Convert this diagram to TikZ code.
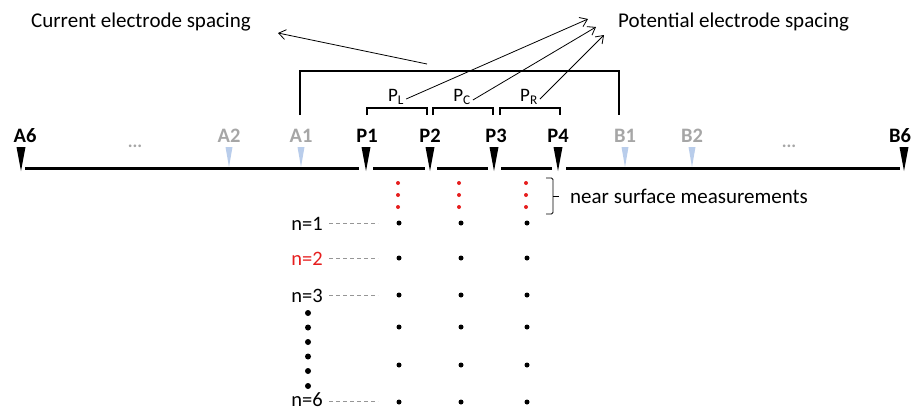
\documentclass[tikz,border=0pt]{standalone}
\usepackage{fontspec}
\setmainfont{Carlito}
\usetikzlibrary{arrows.meta}
\definecolor{elgray}{RGB}{166,166,166}
\definecolor{elblue}{RGB}{185,205,235}
\definecolor{mred}{RGB}{230,30,30}
\definecolor{dgray}{RGB}{150,150,150}
\begin{document}
\begin{tikzpicture}[x=1pt,y=-1pt,
  title/.style={font=\fontsize{21}{24}\selectfont, inner sep=0, anchor=west},
  elab/.style={font=\fontsize{20.5}{24}\selectfont\bfseries, inner sep=0},
  glab/.style={elab, text=elgray},
  plab/.style={font=\fontsize{19}{22}\selectfont, inner sep=0},
  nlab/.style={font=\fontsize{20.5}{24}\selectfont, inner sep=0, anchor=base east},
  ground/.style={line width=3pt},
  bracket/.style={line width=1.1pt},
  pointer/.style={line width=0.8pt, -{Straight Barb[length=7pt,width=10pt]}},
  mdot/.style={circle, fill=black, inner sep=0, minimum size=5pt},
  rdot/.style={circle, fill=mred, inner sep=0, minimum size=4pt},
  vdot/.style={circle, fill=black, inner sep=0, minimum size=6pt},
  dashlink/.style={dgray, line width=0.9pt, dash pattern=on 4pt off 3pt}
]
\useasboundingbox (0,0) rectangle (916,410);

% titles
\node[title] (cur) at (31,22) {Current electrode spacing};
\node[title] (pot) at (618,22) {Potential electrode spacing};

% ground line segments
\draw[ground] (25,168) -- (359,168);
\draw[ground] (373,168) -- (425,168);
\draw[ground] (437,168) -- (488,168);
\draw[ground] (501,168) -- (552,168);
\draw[ground] (566,168) -- (900,168);

% black electrode markers
\foreach \x/\n in {21/a6,366/p1,430/p2,494/p3,558/p4,904/b6}{
  \fill (\x-4.5,147) -- (\x+4.5,147) -- (\x,171) -- cycle;
  \coordinate (\n) at (\x,147);
}
% blue (faded) markers
\foreach \x/\n in {229/a2,301/a1,625/b1,692/b2}{
  \fill[elblue] (\x-3.5,147) -- (\x+3.5,147) -- (\x,167) -- cycle;
  \coordinate (\n) at (\x,147);
}

% electrode labels
\node[elab] (la6) at (25,136) {A6};
\node[glab] (la2) at (229,136) {A2};
\node[glab] (la1) at (301,136) {A1};
\node[elab] (lp1) at (367,136) {P1};
\node[elab] (lp2) at (430,136) {P2};
\node[elab] (lp3) at (496,136) {P3};
\node[elab] (lp4) at (558,136) {P4};
\node[glab] (lb1) at (625,136) {B1};
\node[glab] (lb2) at (692,136) {B2};
\node[elab] (lb6) at (900,136) {B6};
\node[glab, font=\fontsize{18}{20}\selectfont\bfseries] (dl) at (135,146) {...};
\node[glab, font=\fontsize{18}{20}\selectfont\bfseries] (dr) at (789,146) {...};

% current electrode bracket
\draw[bracket] (300,115) -- (300,71) -- (619,71) -- (619,115);

% potential brackets
\draw[bracket] (367,115) -- (367,108) -- (427,108) -- (427,115);
\draw[bracket] (433,115) -- (433,108) -- (493,108) -- (493,115);
\draw[bracket] (500,115) -- (500,108) -- (560,108) -- (560,115);
\node[plab] (pl) at (396,97) {P\textsubscript{L}};
\node[plab] (pc) at (462,97) {P\textsubscript{C}};
\node[plab] (pr) at (529,97) {P\textsubscript{R}};

% pointers
\coordinate (cs) at (427,64);
\draw[pointer] (cs) -- (278,33);
\draw[pointer] (pl.east) ++(2,2) -- (588,19);
\draw[pointer] (pc.east) ++(2,3) -- (596,27);
\draw[pointer] (pr.east) ++(2,2) -- (604,35);

% near surface red dots
\foreach \x in {398,459,526}{
  \foreach \y in {183,195,207}{
    \node[rdot] at (\x,\y) {};
  }
}
\draw[line width=0.9pt, rounded corners=1.5pt] (546,178) -- (553,178) -- (553,214) -- (546,214);
\draw[line width=0.9pt] (553,196) -- (559,196);
\node[title] (near) at (570,196) {near surface measurements};

% rows
\foreach \y in {223,258,295,327,365,402}{
  \node[mdot] at (399,\y) {};
  \node[mdot] at (461,\y) {};
  \node[mdot] at (527,\y) {};
}
\node[nlab] (n1) at (323,230) {n=1};
\node[nlab, text=mred] (n2) at (323,265) {n=2};
\node[nlab] (n3) at (323,302) {n=3};
\node[nlab] (n6) at (323,406) {n=6};
\foreach \n/\y in {n1/223,n2/258,n3/295,n6/401}{
  \draw[dashlink] (329,\y) -- (378,\y);
}
\foreach \y in {313,327.5,342,356.5,371,386}{
  \node[vdot] at (308,\y) {};
}
\end{tikzpicture}
\end{document}
